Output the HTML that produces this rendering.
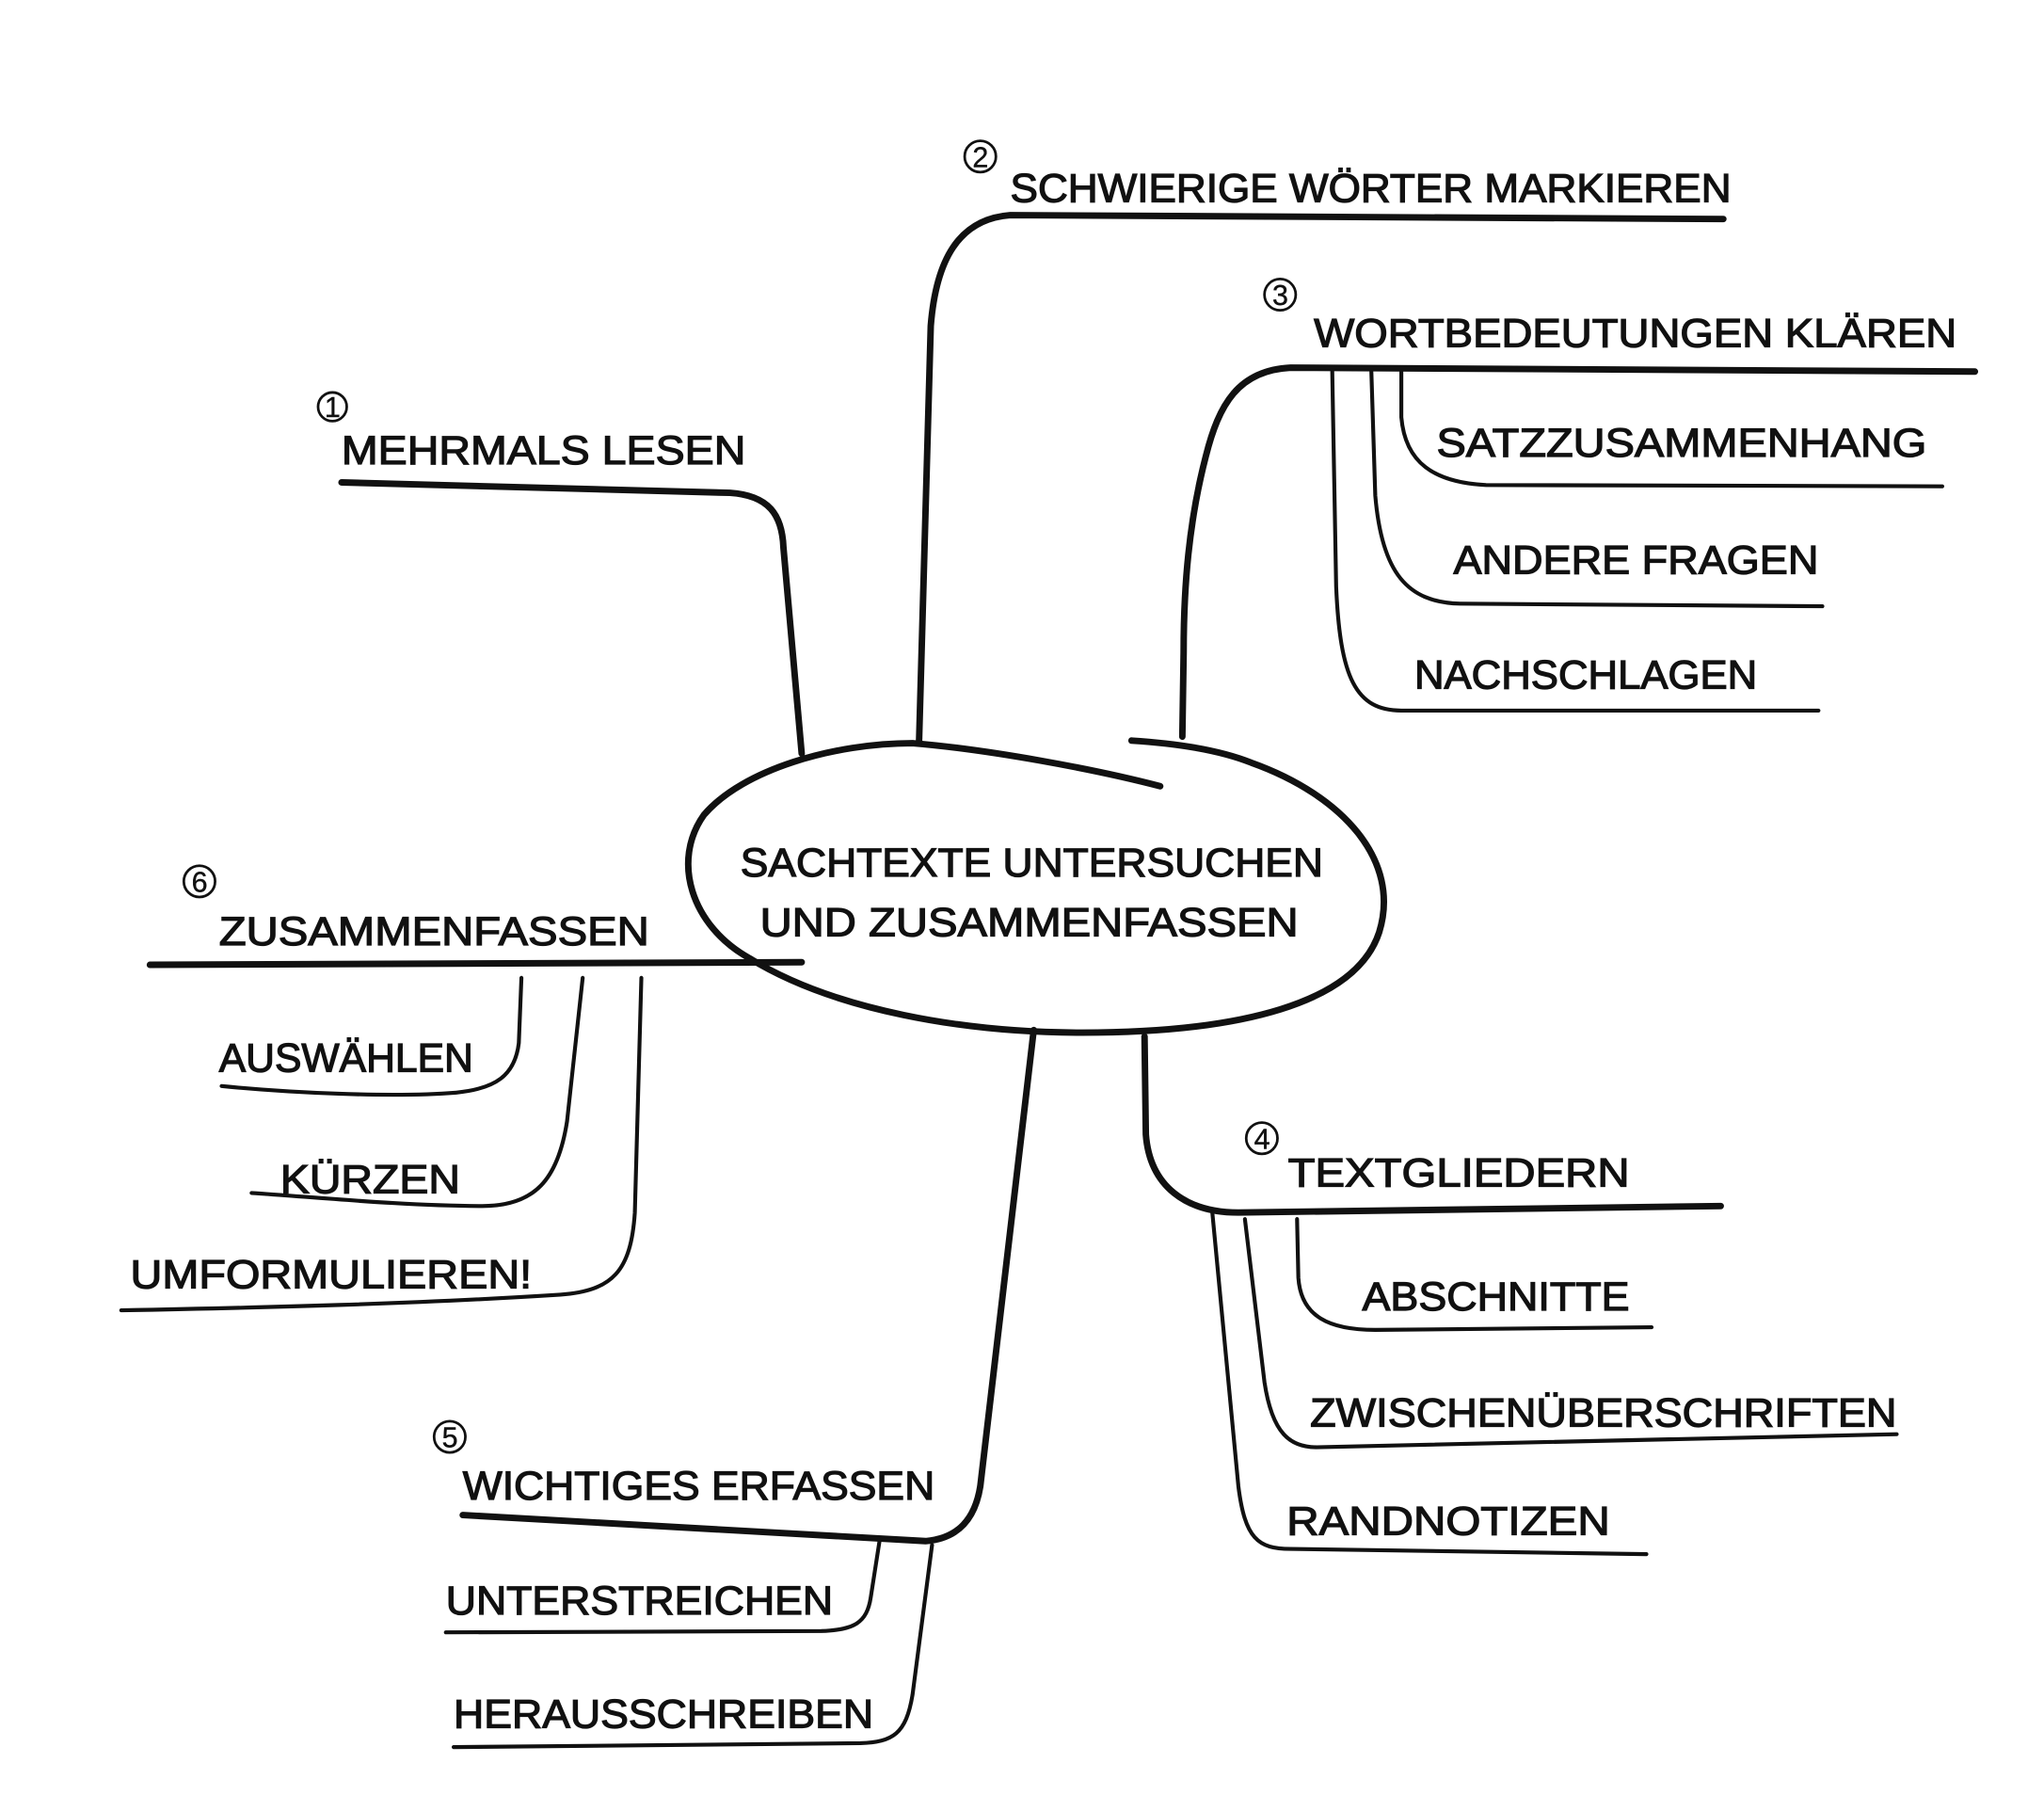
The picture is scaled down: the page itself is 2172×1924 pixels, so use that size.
<!DOCTYPE html>
<html><head><meta charset="utf-8"><style>
html,body{margin:0;padding:0;background:#fff;}
svg{display:block;}
text{font-family:"Liberation Sans",sans-serif;font-size:31px;fill:#111;stroke:#111;stroke-width:0.9;}
.n{font-size:22px;stroke-width:0.3;}
</style></head><body>
<svg width="2172" height="1924" viewBox="0 0 1568 1389" preserveAspectRatio="none" xmlns="http://www.w3.org/2000/svg">
<g fill="none" stroke="#111" stroke-width="5" stroke-linecap="round" stroke-linejoin="round">
<path d="M890,603 C840,590 760,575 700,570 C640,570 570,590 540,625 C515,660 530,710 575,735 C640,775 740,792 830,792 C950,792 1040,770 1058,715 C1075,660 1030,610 960,585 C935,575 900,570 868,568"/>
<path d="M262,370 L560,378 C590,380 600,395 601,420 L615,578"/>
<path d="M1322,168 L775,165 C735,168 718,200 714,250 L705,570"/>
<path d="M1515,285 L990,282 C950,284 935,310 925,350 C912,400 908,450 908,500 L907,565"/>
<path d="M1075,285 L1075,320 C1078,355 1100,370 1140,372 L1490,373" stroke-width="3"/>
<path d="M1052,285 L1055,380 C1060,440 1080,462 1120,463 L1398,465" stroke-width="3"/>
<path d="M1022,285 L1025,450 C1028,520 1040,545 1075,545 L1395,545" stroke-width="3"/>
<path d="M878,795 L879,870 C882,910 910,930 950,930 L1320,925"/>
<path d="M995,935 L996,980 C998,1010 1020,1020 1055,1020 L1267,1018" stroke-width="3"/>
<path d="M955,935 L970,1060 C976,1100 990,1110 1010,1110 L1455,1100" stroke-width="3"/>
<path d="M930,930 L950,1140 C955,1180 965,1188 990,1188 L1263,1192" stroke-width="3"/>
<path d="M355,1162 L710,1182 C735,1180 748,1165 752,1140 L793,790"/>
<path d="M675,1180 L668,1225 C665,1245 655,1250 630,1251 L342,1252" stroke-width="3"/>
<path d="M715,1185 L700,1300 C695,1330 685,1336 660,1337 L348,1340" stroke-width="3"/>
<path d="M115,740 L615,738"/>
<path d="M400,750 L398,800 C395,825 380,835 350,838 C300,842 220,838 170,833" stroke-width="3"/>
<path d="M447,750 L435,860 C428,905 410,925 370,925 C310,925 240,918 193,915" stroke-width="3"/>
<path d="M492,750 L487,930 C484,975 470,990 430,993 C320,1000 200,1003 93,1005" stroke-width="3"/>
</g>
<g fill="none" stroke="#111" stroke-width="2">
<circle cx="255" cy="312" r="11"/>
<circle cx="752" cy="120" r="12"/>
<circle cx="982" cy="226" r="12"/>
<circle cx="968" cy="873" r="12"/>
<circle cx="345" cy="1102" r="12"/>
<circle cx="153" cy="676" r="12"/>
</g>
<text class="n" x="249" y="320">1</text>
<text class="n" x="746" y="128">2</text>
<text class="n" x="976" y="234">3</text>
<text class="n" x="962" y="881">4</text>
<text class="n" x="339" y="1110">5</text>
<text class="n" x="147" y="684">6</text>

<text x="262" y="356" textLength="310" lengthAdjust="spacingAndGlyphs">MEHRMALS LESEN</text>
<text x="775" y="155" textLength="553" lengthAdjust="spacingAndGlyphs">SCHWIERIGE WÖRTER MARKIEREN</text>
<text x="1008" y="266" textLength="493" lengthAdjust="spacingAndGlyphs">WORTBEDEUTUNGEN KLÄREN</text>
<text x="1102" y="350" textLength="376" lengthAdjust="spacingAndGlyphs">SATZZUSAMMENHANG</text>
<text x="1115" y="440" textLength="280" lengthAdjust="spacingAndGlyphs">ANDERE FRAGEN</text>
<text x="1085" y="528" textLength="263" lengthAdjust="spacingAndGlyphs">NACHSCHLAGEN</text>
<text x="988" y="910" textLength="262" lengthAdjust="spacingAndGlyphs">TEXTGLIEDERN</text>
<text x="1045" y="1005" textLength="205" lengthAdjust="spacingAndGlyphs">ABSCHNITTE</text>
<text x="1005" y="1094" textLength="450" lengthAdjust="spacingAndGlyphs">ZWISCHENÜBERSCHRIFTEN</text>
<text x="987" y="1177" textLength="248" lengthAdjust="spacingAndGlyphs">RANDNOTIZEN</text>
<text x="355" y="1150" textLength="362" lengthAdjust="spacingAndGlyphs">WICHTIGES ERFASSEN</text>
<text x="342" y="1238" textLength="297" lengthAdjust="spacingAndGlyphs">UNTERSTREICHEN</text>
<text x="348" y="1325" textLength="322" lengthAdjust="spacingAndGlyphs">HERAUSSCHREIBEN</text>
<text x="168" y="725" textLength="330" lengthAdjust="spacingAndGlyphs">ZUSAMMENFASSEN</text>
<text x="168" y="822" textLength="195" lengthAdjust="spacingAndGlyphs">AUSWÄHLEN</text>
<text x="215" y="915" textLength="138" lengthAdjust="spacingAndGlyphs">KÜRZEN</text>
<text x="100" y="988" textLength="308" lengthAdjust="spacingAndGlyphs">UMFORMULIEREN!</text>
<text x="568" y="672" textLength="447" lengthAdjust="spacingAndGlyphs">SACHTEXTE UNTERSUCHEN</text>
<text x="583" y="718" textLength="413" lengthAdjust="spacingAndGlyphs">UND ZUSAMMENFASSEN</text>
</svg>
</body></html>
